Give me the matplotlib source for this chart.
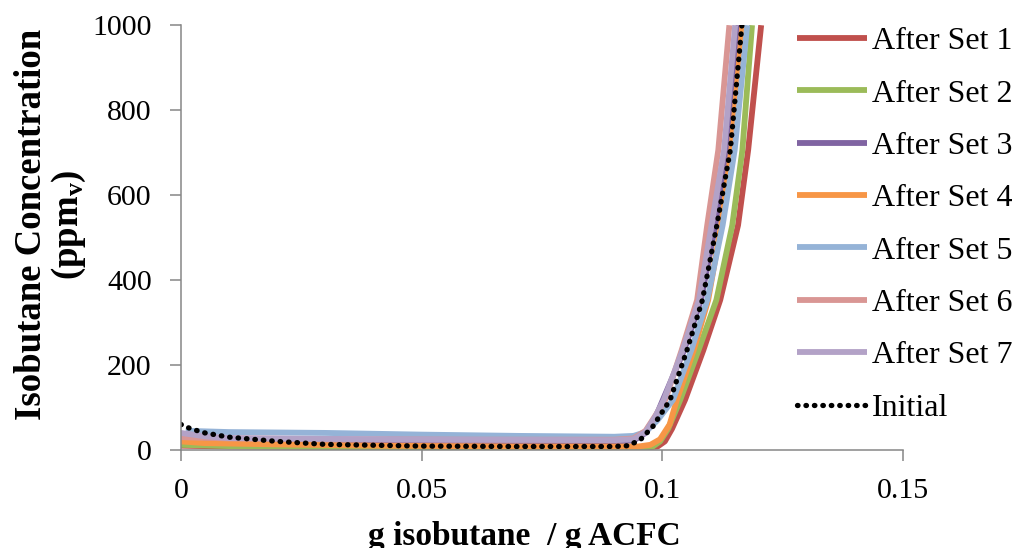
import numpy as np
import matplotlib
matplotlib.use('Agg')
import matplotlib.pyplot as plt

plt.rcParams['font.family'] = ['Liberation Serif', 'DejaVu Serif']
plt.rcParams['mathtext.fontset'] = 'custom'
plt.rcParams['mathtext.rm'] = 'Liberation Serif'
plt.rcParams['mathtext.bf'] = 'Liberation Serif:bold'
plt.rcParams['mathtext.it'] = 'Liberation Serif:italic'

# breakthrough curves: x = g isobutane / g ACFC, y = ppmv
set1_x = [0, 0.01, 0.03, 0.06, 0.09, 0.097, 0.099, 0.1005, 0.102, 0.1047, 0.1085, 0.112, 0.1157, 0.1178, 0.1205]
set1_y = [10, 8, 7, 6, 6, 6, 8, 20, 50, 118, 235, 353, 529, 706, 1000]

set2_x = [0, 0.01, 0.03, 0.06, 0.09, 0.096, 0.098, 0.0995, 0.1012, 0.1037, 0.1075, 0.1112, 0.1145, 0.1166, 0.1186]
set2_y = [12, 9, 7, 6, 6, 6, 8, 20, 50, 118, 235, 353, 529, 706, 1000]

set3_x = [0, 0.01, 0.03, 0.06, 0.09, 0.094, 0.0965, 0.0985, 0.1001, 0.1045, 0.108, 0.111, 0.1136, 0.1158]
set3_y = [28, 24, 22, 20, 20, 22, 40, 75, 118, 235, 353, 529, 706, 1000]

set4_x = [0, 0.005, 0.02, 0.04, 0.07, 0.09, 0.095, 0.0975, 0.0995, 0.1015, 0.103, 0.1065, 0.1095, 0.1122, 0.1143, 0.1166]
set4_y = [20, 16, 13, 10, 8, 8, 8, 12, 25, 60, 118, 235, 353, 529, 706, 1000]

set5_x = [0.001, 0.01, 0.03, 0.05, 0.07, 0.09, 0.094, 0.0965, 0.099, 0.1022, 0.106, 0.1093, 0.1125, 0.115, 0.1176]
set5_y = [45, 42, 40, 36, 33, 31, 33, 42, 70, 118, 235, 353, 529, 706, 1000]

set6_x = [0, 0.01, 0.03, 0.06, 0.09, 0.094, 0.0965, 0.0985, 0.1006, 0.104, 0.1072, 0.1093, 0.1116, 0.1139]
set6_y = [30, 27, 25, 24, 24, 27, 45, 80, 118, 235, 353, 529, 706, 1000]

set7_x = [0, 0.005, 0.01, 0.03, 0.06, 0.09, 0.094, 0.0965, 0.0985, 0.1003, 0.1042, 0.1076, 0.1102, 0.1128, 0.1151]
set7_y = [40, 32, 28, 26, 24, 23, 25, 42, 78, 118, 235, 353, 529, 706, 1000]

initial_x = [0, 0.002, 0.005, 0.01, 0.02, 0.03, 0.05, 0.07, 0.09, 0.093, 0.0955, 0.098, 0.1016, 0.1051, 0.1083, 0.1113, 0.1141, 0.1165]
initial_y = [60, 50, 40, 30, 20, 13, 9, 8, 8, 10, 25, 55, 118, 235, 353, 529, 706, 1000]

labels = ['After Set 1', 'After Set 2', 'After Set 3', 'After Set 4',
          'After Set 5', 'After Set 6', 'After Set 7']
colors = ['#C0504D', '#9BBB59', '#8064A2', '#F79646', '#95B3D7', '#D99694', '#B3A2C7']
series = [(set1_x, set1_y), (set2_x, set2_y), (set3_x, set3_y), (set4_x, set4_y),
          (set5_x, set5_y), (set6_x, set6_y), (set7_x, set7_y)]

fig = plt.figure(figsize=(10.16, 5.48), dpi=100)
ax = fig.add_axes([0.178, 0.179, 0.711, 0.775])

for (xs, ys), lab, col in zip(series, labels, colors):
    ax.plot(xs, ys, color=col, lw=4.2, label=lab, solid_capstyle='butt',
            solid_joinstyle='round')
ax.plot(initial_x, initial_y, color='black', lw=3.8, ls=(0, (0.1, 1.5)),
        dash_capstyle='round', label='Initial')

ax.set_xlim(0, 0.15)
ax.set_ylim(0, 1000)
ax.set_xticks([0, 0.05, 0.1, 0.15])
ax.set_xticklabels(['0', '0.05', '0.1', '0.15'])
ax.set_yticks([0, 200, 400, 600, 800, 1000])

for s in ['top', 'right']:
    ax.spines[s].set_visible(False)
for s in ['left', 'bottom']:
    ax.spines[s].set_color('#868686')
    ax.spines[s].set_linewidth(1.1)
ax.tick_params(axis='both', direction='out', length=8, width=1.1, color='#868686',
               labelsize=21.5, labelcolor='black')
ax.tick_params(axis='y', pad=13)
ax.tick_params(axis='x', pad=12)

ax.set_ylabel('Isobutane Concentration\n(ppm$_\\mathbf{v}$)', fontsize=26.5,
              fontweight='bold', linespacing=1.05)
ax.yaxis.set_label_coords(-0.128, 0.53)
ax.set_xlabel('g isobutane  / g ACFC', fontsize=24, fontweight='bold')
ax.xaxis.set_label_coords(0.475, -0.168)

fig.legend(loc='upper left', bbox_to_anchor=(0.784, 0.951), frameon=False,
           fontsize=23, handlelength=2.2, handletextpad=0.15,
           labelspacing=0.72, borderpad=0, borderaxespad=0)

fig.savefig('out.png', dpi=100)
